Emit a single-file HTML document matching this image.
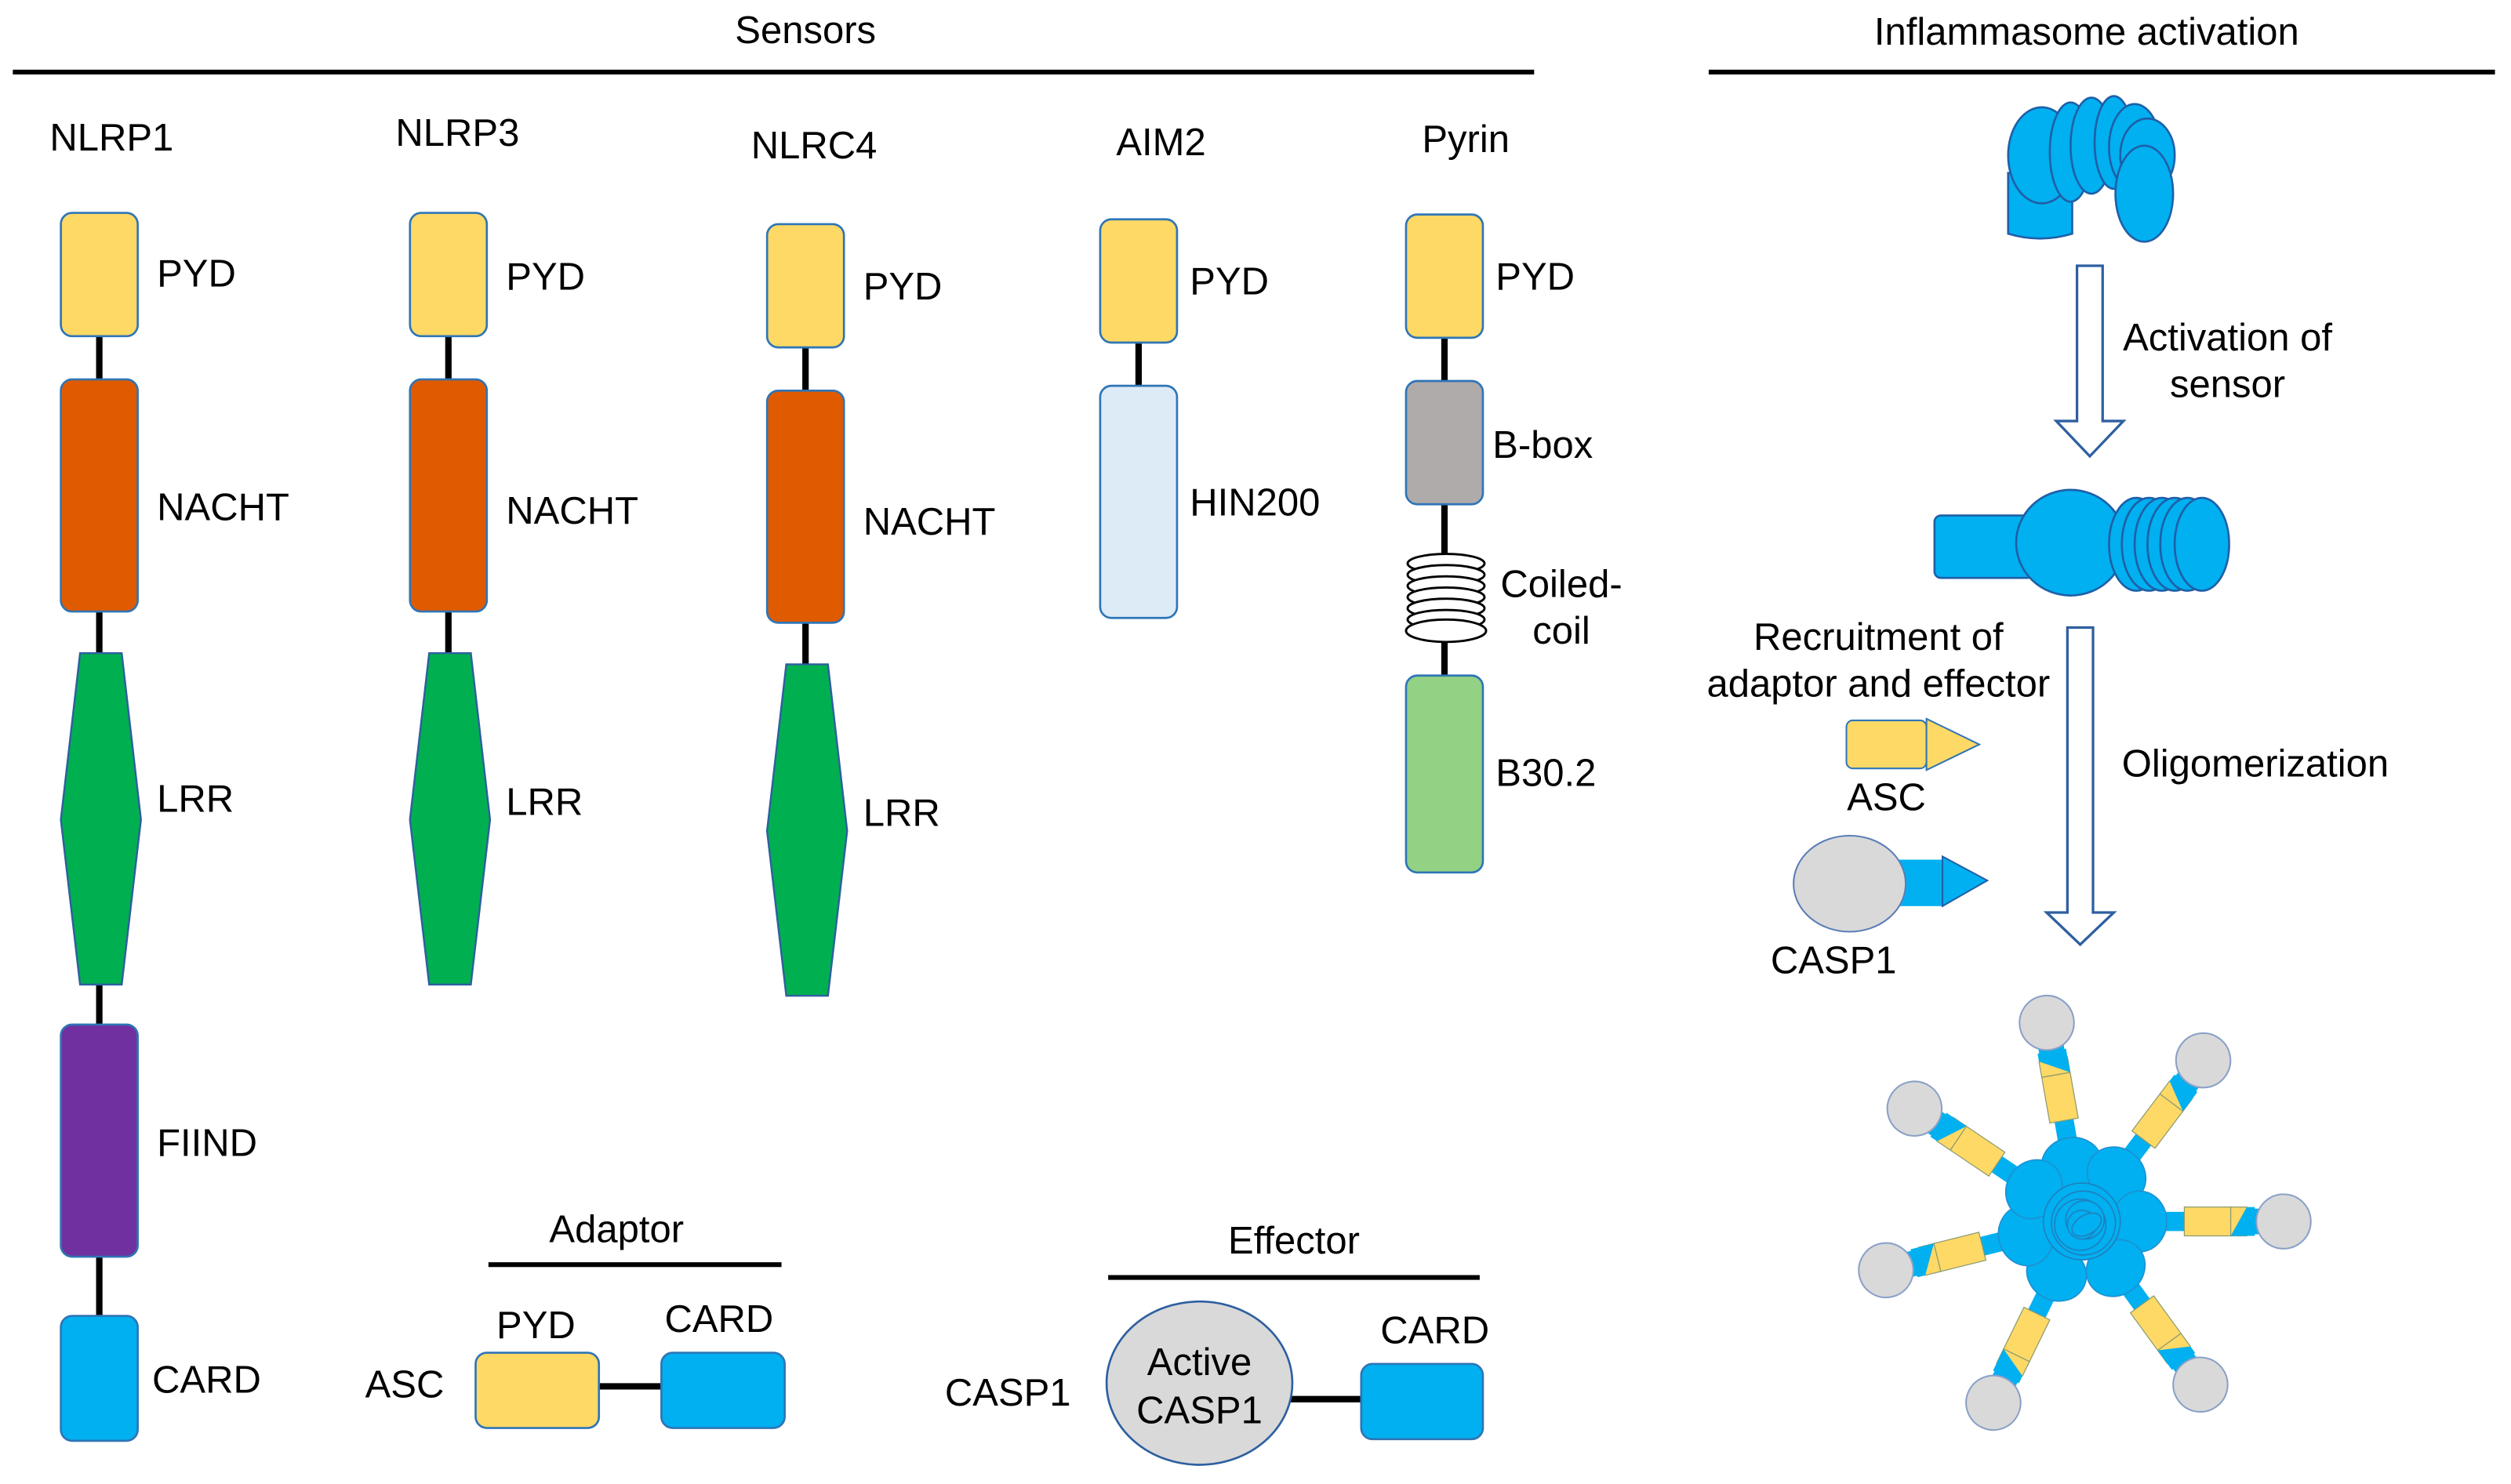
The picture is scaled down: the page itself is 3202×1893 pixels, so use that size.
<!DOCTYPE html>
<html><head><meta charset="utf-8"><style>
html,body{margin:0;padding:0;background:#fff;}
svg{display:block;}
text{font-family:"Liberation Sans",Arial,sans-serif;fill:#000;}
</style></head><body>
<svg width="3202" height="1893" viewBox="0 0 1568 927" xmlns="http://www.w3.org/2000/svg">
<defs>
<g id="lrr"><polygon points="12,0 38,0 50,104 38,207 12,207 0,104" fill="#00B050" stroke="#2E5FA0" stroke-width="1.2"/></g>
</defs>
<g font-size="24">
<text x="503" y="27" text-anchor="middle">Sensors</text>
<line x1="8" y1="45" x2="958" y2="45" stroke="#000" stroke-width="3"/>
<text x="1303" y="28" text-anchor="middle">Inflammasome activation</text>
<line x1="1067" y1="45" x2="1558" y2="45" stroke="#000" stroke-width="3"/>

<!-- NLRP1 -->
<text x="31" y="94">NLRP1</text>
<line x1="62" y1="200" x2="62" y2="830" stroke="#000" stroke-width="4"/>
<rect x="38" y="133" width="48" height="77" rx="7" fill="#FFD966" stroke="#2E75B6" stroke-width="1.3"/>
<rect x="38" y="237" width="48" height="145" rx="7" fill="#E05A00" stroke="#2E75B6" stroke-width="1.3"/>
<use href="#lrr" x="38" y="408"/>
<rect x="38" y="640" width="48" height="145" rx="7" fill="#7030A0" stroke="#2E75B6" stroke-width="1.3"/>
<rect x="38" y="822" width="48" height="78" rx="7" fill="#00B0F0" stroke="#2E75B6" stroke-width="1.3"/>
<text x="98" y="179">PYD</text><text x="98" y="325">NACHT</text><text x="98" y="507">LRR</text><text x="98" y="722">FIIND</text><text x="95" y="870">CARD</text>

<!-- NLRP3 -->
<text x="247" y="91">NLRP3</text>
<line x1="280" y1="200" x2="280" y2="420" stroke="#000" stroke-width="4"/>
<rect x="256" y="133" width="48" height="77" rx="7" fill="#FFD966" stroke="#2E75B6" stroke-width="1.3"/>
<rect x="256" y="237" width="48" height="145" rx="7" fill="#E05A00" stroke="#2E75B6" stroke-width="1.3"/>
<use href="#lrr" x="256" y="408"/>
<text x="316" y="181">PYD</text><text x="316" y="327">NACHT</text><text x="316" y="509">LRR</text>

<!-- NLRC4 -->
<text x="469" y="99">NLRC4</text>
<line x1="503" y1="207" x2="503" y2="425" stroke="#000" stroke-width="4"/>
<rect x="479" y="140" width="48" height="77" rx="7" fill="#FFD966" stroke="#2E75B6" stroke-width="1.3"/>
<rect x="479" y="244" width="48" height="145" rx="7" fill="#E05A00" stroke="#2E75B6" stroke-width="1.3"/>
<use href="#lrr" x="479" y="415"/>
<text x="539" y="187">PYD</text><text x="539" y="334">NACHT</text><text x="539" y="516">LRR</text>

<!-- AIM2 -->
<text x="697" y="97">AIM2</text>
<line x1="711" y1="205" x2="711" y2="250" stroke="#000" stroke-width="4"/>
<rect x="687" y="137" width="48" height="77" rx="7" fill="#FFD966" stroke="#2E75B6" stroke-width="1.3"/>
<rect x="687" y="241" width="48" height="145" rx="7" fill="#DDEBF7" stroke="#2E75B6" stroke-width="1.3"/>
<text x="743" y="184">PYD</text><text x="743" y="322">HIN200</text>

<!-- Pyrin -->
<text x="888" y="95">Pyrin</text>
<line x1="902" y1="205" x2="902" y2="430" stroke="#000" stroke-width="4"/>
<rect x="878" y="134" width="48" height="77" rx="7" fill="#FFD966" stroke="#2E75B6" stroke-width="1.3"/>
<rect x="878" y="238" width="48" height="77" rx="7" fill="#AFABAB" stroke="#2E75B6" stroke-width="1.3"/>
<g fill="#fff" stroke="#000" stroke-width="1.4">
<ellipse cx="903" cy="352" rx="24" ry="6"/>
<ellipse cx="903" cy="359" rx="24" ry="6"/>
<ellipse cx="903" cy="366" rx="24" ry="6"/>
<ellipse cx="903" cy="373" rx="24" ry="6"/>
<ellipse cx="903" cy="380" rx="24" ry="6"/>
<ellipse cx="903" cy="387" rx="24" ry="6"/>
<ellipse cx="903" cy="394" rx="25" ry="7"/>
</g>
<rect x="878" y="422" width="48" height="123" rx="7" fill="#93D185" stroke="#2E75B6" stroke-width="1.3"/>
<text x="934" y="181">PYD</text><text x="932" y="286">B-box</text>
<text x="975" y="373" text-anchor="middle">Coiled-</text><text x="975" y="402" text-anchor="middle">coil</text>
<text x="934" y="491">B30.2</text>

<!-- Adaptor -->
<text x="385" y="776" text-anchor="middle">Adaptor</text>
<line x1="305" y1="790" x2="488" y2="790" stroke="#000" stroke-width="3"/>
<text x="228" y="873">ASC</text>
<line x1="374" y1="866" x2="413" y2="866" stroke="#000" stroke-width="4"/>
<rect x="297" y="845" width="77" height="47" rx="7" fill="#FFD966" stroke="#2E75B6" stroke-width="1.3"/>
<rect x="413" y="845" width="77" height="47" rx="7" fill="#00B0F0" stroke="#2E75B6" stroke-width="1.3"/>
<text x="310" y="836">PYD</text><text x="415" y="832">CARD</text>

<!-- Effector -->
<text x="808" y="783" text-anchor="middle">Effector</text>
<line x1="692" y1="798" x2="924" y2="798" stroke="#000" stroke-width="3"/>
<text x="590" y="878">CASP1</text>
<line x1="805" y1="874" x2="850" y2="874" stroke="#000" stroke-width="4"/>
<ellipse cx="749" cy="864" rx="58" ry="51" fill="#D9D9D9" stroke="#2E5FA0" stroke-width="1.3"/>
<text x="749" y="859" text-anchor="middle">Active</text><text x="749" y="889" text-anchor="middle">CASP1</text>
<rect x="850" y="852" width="76" height="47" rx="7" fill="#00B0F0" stroke="#2E75B6" stroke-width="1.3"/>
<text x="862" y="839">CARD</text>

<!-- inactive sensor -->
<g fill="#00B0F0" stroke="#1F5FA8" stroke-width="1.3">
<path d="M1254,108 L1254,146 Q1274,152 1294,146 L1294,108 Z"/>
<ellipse cx="1275" cy="97" rx="21" ry="30"/>
<ellipse cx="1293" cy="95" rx="13" ry="31"/>
<ellipse cx="1306" cy="91" rx="13" ry="30"/>
<ellipse cx="1320" cy="89" rx="12" ry="29"/>
<ellipse cx="1333" cy="92" rx="16" ry="27"/>
<ellipse cx="1341" cy="97" rx="17" ry="23"/>
<ellipse cx="1339" cy="121" rx="18" ry="30"/>
</g>
<polygon points="1297,166 1313,166 1313,263 1326,263 1305,285 1284,263 1297,263" fill="#fff" stroke="#2E5FA0" stroke-width="1.6"/>
<text x="1391" y="219" text-anchor="middle">Activation of</text>
<text x="1391" y="248" text-anchor="middle">sensor</text>
<!-- active sensor -->
<g fill="#00B0F0" stroke="#1F5FA8" stroke-width="1.3">
<rect x="1208" y="322" width="62" height="39" rx="4"/>
<ellipse cx="1293" cy="339" rx="34" ry="33"/>
<ellipse cx="1334" cy="340" rx="17" ry="29"/>
<ellipse cx="1342" cy="340" rx="17" ry="29"/>
<ellipse cx="1350" cy="340" rx="17" ry="29"/>
<ellipse cx="1358" cy="340" rx="17" ry="29"/>
<ellipse cx="1366" cy="340" rx="17" ry="29"/>
<ellipse cx="1375" cy="340" rx="17" ry="29"/>
</g>
<polygon points="1291,392 1307,392 1307,570 1320,570 1299,590 1278,570 1291,570" fill="#fff" stroke="#2E5FA0" stroke-width="1.6"/>
<text x="1325" y="485">Oligomerization</text>
<text x="1173" y="406" text-anchor="middle">Recruitment of</text>
<text x="1173" y="435" text-anchor="middle">adaptor and effector</text>
<rect x="1153" y="450" width="50" height="30" rx="4" fill="#FFD966" stroke="#2E75B6" stroke-width="1"/>
<polygon points="1203,449 1236,465 1203,481" fill="#FFD966" stroke="#2E75B6" stroke-width="1"/>
<text x="1178" y="506" text-anchor="middle">ASC</text>
<rect x="1180" y="537" width="33" height="29" fill="#00B0F0"/>
<polygon points="1213,535 1241,550 1213,566" fill="#00B0F0" stroke="#1F5FA8" stroke-width="1"/>
<ellipse cx="1155" cy="552" rx="35" ry="30" fill="#D9D9D9" stroke="#5B7DB8" stroke-width="1"/>
<text x="1145" y="608" text-anchor="middle">CASP1</text>

<!-- oligomer -->
<g transform="translate(1300,763)">
<defs>
<g id="spoke">
<rect x="40" y="-6" width="26" height="12" fill="#00B0F0"/>
<rect x="64" y="-9" width="29" height="18" fill="#FFD966" stroke="#8A9A70" stroke-width="0.6"/>
<polygon points="93,-9 103,-9 103,9 93,9" fill="#FFD966" stroke="#8A9A70" stroke-width="0.6"/>
<polygon points="93,9 103,-9 108,-9 108,9" fill="#00B0F0"/>
<rect x="107" y="-8" width="8" height="16" fill="#00B0F0"/>
<ellipse cx="126" cy="0" rx="17" ry="17" fill="#D9D9D9" stroke="#8AA0C8" stroke-width="1"/>
<ellipse cx="36" cy="0" rx="17" ry="19" fill="#00B0F0" stroke="#1F8FD0" stroke-width="0.8"/>
</g>
</defs>
<use href="#spoke" transform="rotate(-100)"/>
<use href="#spoke" transform="rotate(-53)"/>
<use href="#spoke" transform="rotate(0)"/>
<use href="#spoke" transform="rotate(54)"/>
<use href="#spoke" transform="rotate(116)"/>
<use href="#spoke" transform="rotate(166)"/>
<use href="#spoke" transform="rotate(-146)"/>
<g fill="#00B0F0" stroke="#1F7FC0" stroke-width="0.8">
<circle cx="0" cy="0" r="24"/>
<circle cx="1" cy="1" r="20"/>
<circle cx="-1" cy="2" r="16"/>
<circle cx="2" cy="-1" r="12"/>
<circle cx="0" cy="2" r="9"/>
<ellipse cx="3" cy="2" rx="10" ry="6" transform="rotate(-30 3 2)"/>
</g>
</g>
</g>
</svg>
</body></html>
